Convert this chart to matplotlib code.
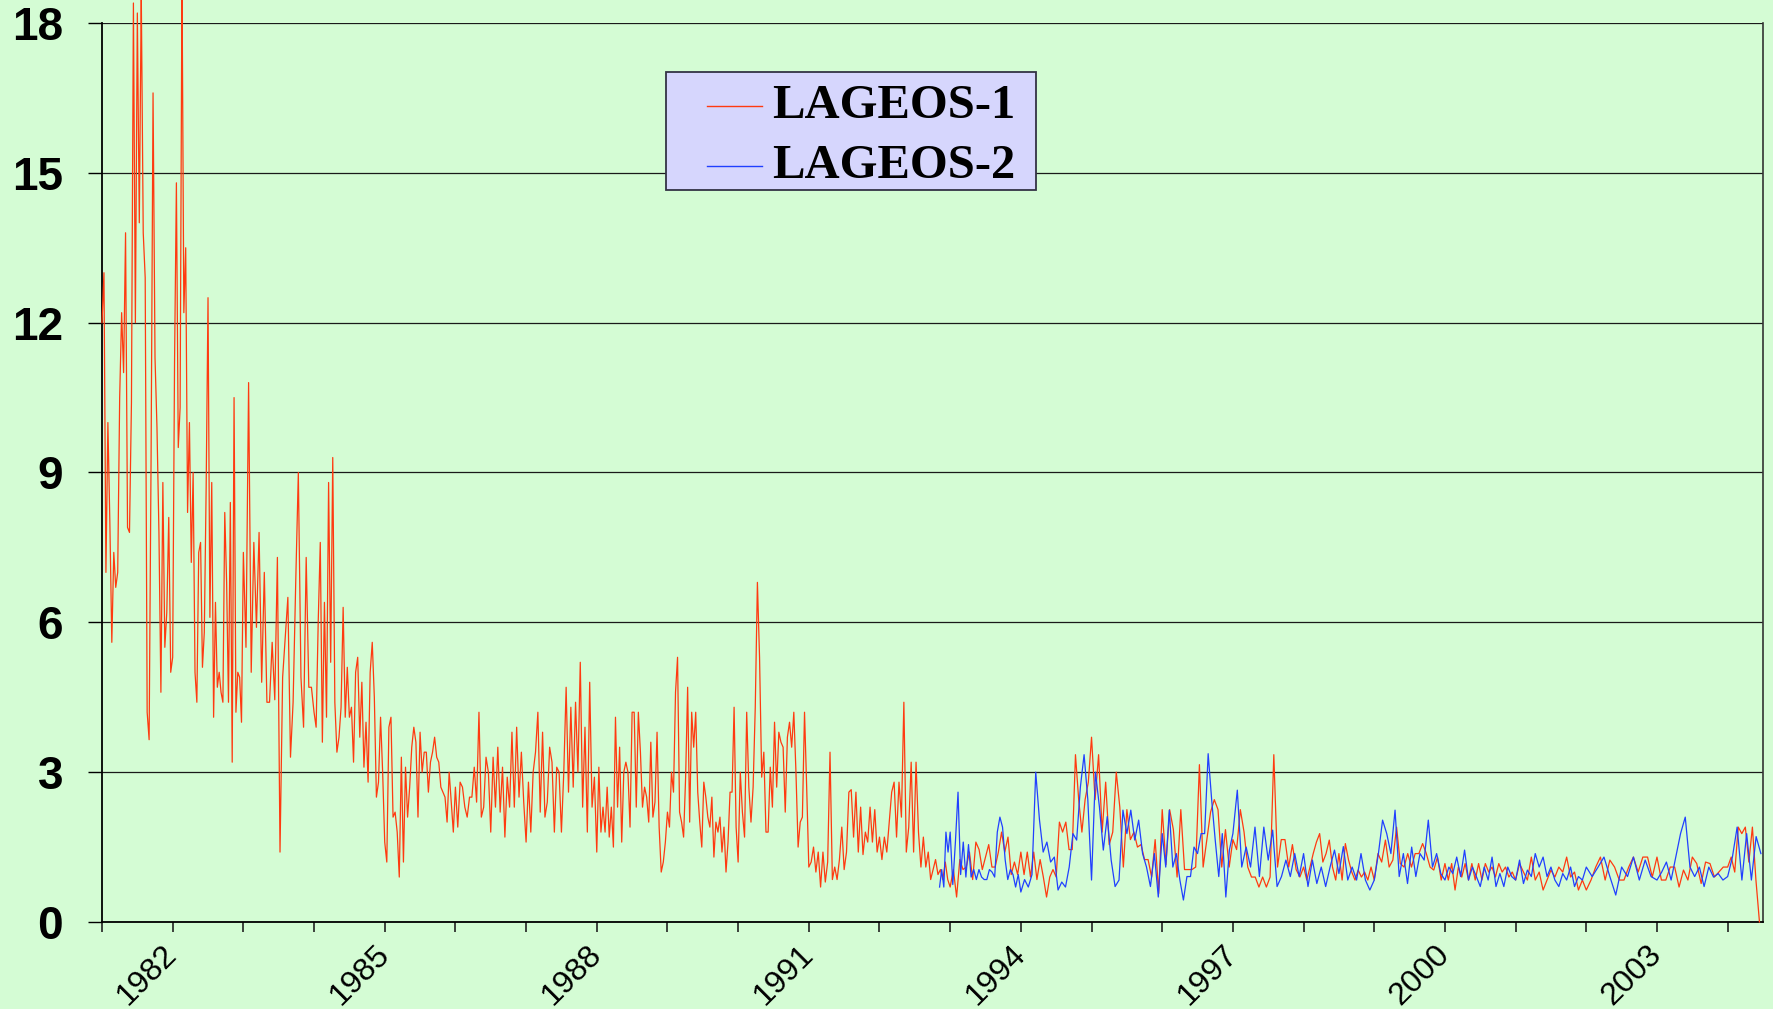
import numpy as np
import matplotlib
matplotlib.use("Agg")
import matplotlib.pyplot as plt
from matplotlib.patches import Rectangle
from matplotlib.lines import Line2D

# LAGEOS-1 values, one list per year
l1_1981 = [12.0, 13.0, 7.0, 10.0, 8.0, 5.6, 7.4, 6.7, 7.0, 10.5, 12.2, 11.0, 13.8, 7.9, 7.8, 10.4,
           18.4, 12.0, 18.2, 14.0, 18.6, 13.8, 12.9, 4.2, 3.65, 9.3, 16.6, 11.3, 9.9, 7.8, 4.6, 8.8,
           5.5, 6.2, 8.1, 5.0]
l1_1982 = [5.3, 11.2, 14.8, 9.5, 10.3, 19.0, 12.2, 13.5, 8.2, 10.0, 7.2, 9.0, 5.0, 4.4, 7.4, 7.6,
           5.1, 5.8, 8.7, 12.5, 6.1, 8.8, 4.1, 6.4, 4.7, 5.0, 4.6, 4.4, 8.2, 6.8, 4.4, 8.4, 3.2, 10.5,
           4.2, 5.0, 4.9, 4.0]
l1_1983 = [7.4, 5.5, 10.8, 5.0, 7.6, 5.9, 7.8, 4.8, 7.0, 4.4, 4.4, 5.6, 4.45, 7.3, 1.4, 4.9, 5.7,
           6.5, 3.3, 4.4, 6.8, 9.0, 4.9, 3.9, 7.3, 4.7, 4.7]
l1_1984 = [4.2, 3.9, 6.0, 7.6, 3.6, 6.4, 4.1, 8.8, 5.2, 9.3, 4.4, 3.4, 3.7, 4.3, 6.3, 4.1, 5.1, 4.1,
           4.3, 3.2, 5.0, 5.3, 3.7, 4.8, 3.1, 4.0, 2.8, 5.0, 5.6, 4.5, 2.5, 2.8, 4.1, 3.0]
l1_1985 = [1.6, 1.2, 3.9, 4.1, 2.1, 2.2, 1.8, 0.9, 3.3, 1.2, 3.1, 2.1, 2.7, 3.5, 3.9, 3.6, 2.1, 3.8,
           3.0, 3.4, 3.4, 2.6, 3.2, 3.4, 3.7, 3.3, 3.2, 2.7, 2.6, 2.5, 2.0, 3.0, 2.4, 1.8]
l1_1986 = [2.7, 1.9, 2.8, 2.7, 2.3, 2.1, 2.5, 2.5, 3.1, 2.4, 4.2, 2.1, 2.3, 3.3, 3.0, 1.8, 3.3, 2.3,
           3.5, 2.2, 3.1, 1.7, 2.9, 2.3, 3.8, 2.3, 3.9, 2.5, 3.4, 2.4]
l1_1987 = [1.6, 2.8, 1.8, 3.0, 3.4, 4.2, 2.2, 3.8, 2.1, 2.4, 3.5, 3.2, 1.8, 3.1, 3.0, 1.8, 3.0, 4.7,
           2.6, 4.3, 2.7, 4.4, 3.0, 5.2, 2.3, 3.9, 1.8, 4.8, 2.3, 2.9]
l1_1988 = [1.4, 3.1, 1.8, 2.3, 1.8, 2.7, 1.7, 2.3, 1.5, 4.1, 2.3, 3.5, 1.6, 3.0, 3.2, 3.0, 1.9, 4.2,
           4.2, 2.3, 4.2, 3.4, 2.3, 2.7, 2.5, 2.0, 3.6, 2.1, 2.4, 3.8, 1.9, 1.0, 1.2, 1.6]
l1_1989 = [2.2, 1.9, 3.0, 2.6, 4.6, 5.3, 2.2, 2.0, 1.7, 2.9, 4.7, 2.0, 4.2, 3.5, 4.2, 2.6, 2.0, 1.5,
           2.8, 2.5, 2.1, 1.9, 2.5, 1.3, 2.0, 1.8, 2.1, 1.4, 1.9, 1.0, 1.6, 2.6, 2.6, 4.3, 1.9]
l1_1990 = [1.2, 3.0, 2.2, 1.7, 4.2, 2.7, 2.0, 2.7, 4.3, 6.8, 5.3, 2.9, 3.4, 1.8, 1.8, 3.1, 2.3, 4.0,
           2.7, 3.8, 3.6, 3.5, 2.2, 3.7, 4.0, 3.5, 4.2, 3.0, 1.5, 2.0, 2.1, 4.2, 2.7]
l1_1991 = [1.1, 1.2, 1.5, 1.0, 1.4, 0.7, 1.4, 0.8, 1.2, 3.4, 0.85, 1.1, 0.85, 1.25, 1.9, 1.05, 1.4,
           2.6, 2.65, 1.7, 2.6, 1.4, 2.3, 1.35, 1.8, 1.6, 2.3, 1.6, 2.25, 1.4]
l1_1992 = [1.7, 1.25, 1.7, 1.4, 2.0, 2.6, 2.8, 1.7, 2.8, 2.1, 4.4, 1.4, 1.9, 3.2, 1.4, 3.2, 1.8, 1.1,
           1.7, 1.1, 1.4, 0.85, 1.05, 1.25, 0.95, 1.05, 0.85, 1.2, 0.85]
l1_1993 = [0.7, 1.05, 0.5, 1.25, 1.05, 1.1, 1.4, 0.85, 1.6, 1.45, 1.05, 1.3, 1.55, 1.1, 1.1, 1.4,
           1.8, 1.4, 1.7, 0.95, 1.2, 0.95]
l1_1994 = [1.4, 0.95, 1.4, 0.9, 1.4, 0.85, 1.25, 0.9, 0.5, 0.9, 1.05, 0.9, 2.0, 1.8, 2.0, 1.45,
           1.45, 3.35, 2.45, 1.8, 2.45, 2.8]
l1_1995 = [3.7, 2.45, 3.35, 1.8, 2.8, 1.55, 1.8, 3.0, 2.3, 1.1, 2.25, 1.65, 1.8, 1.5, 1.55, 1.25,
           1.25, 0.9, 1.65, 0.57]
l1_1996 = [2.25, 1.15, 2.25, 1.85, 0.9, 2.25, 1.05, 1.05, 1.05, 1.1, 3.15, 1.1, 1.65, 2.2, 2.45,
           2.25, 1.1, 1.85, 1.1]
l1_1997 = [1.65, 1.45, 2.25, 1.8, 1.1, 0.9, 0.9, 0.7, 0.9, 0.7, 0.9, 3.35, 1.1, 1.65, 1.65, 1.1,
           1.55, 1.05, 0.9]
l1_1998 = [1.1, 0.84, 1.1, 1.37, 1.6, 1.77, 1.2, 1.37, 1.64, 1.1, 0.84, 1.37, 0.84, 1.57, 1.24,
           1.0, 0.84, 1.04, 0.9, 1.0, 0.84, 1.1]
l1_1999 = [0.84, 1.37, 1.2, 1.64, 1.1, 1.24, 1.9, 1.17, 1.1, 1.37, 1.1, 1.37, 1.37, 1.57, 1.37,
           1.1, 1.04, 1.3, 0.84]
l1_2000 = [1.17, 0.84, 1.17, 0.64, 1.1, 0.9, 1.17, 0.84, 1.17, 0.84, 1.17, 0.84, 1.17, 1.0, 1.1,
           0.9, 1.17, 1.0, 1.1, 0.9, 1.0]
l1_2001 = [0.84, 1.17, 1.0, 0.84, 1.3, 0.84, 1.0, 0.64, 0.84, 1.04, 0.9, 1.1, 1.0, 1.3, 0.9, 1.0,
           0.64, 0.84]
l1_2002 = [0.64, 0.84, 1.1, 1.3, 0.84, 1.24, 1.1, 0.84, 0.84, 1.1, 1.3, 1.0, 1.3, 1.3, 0.9]
l1_2003 = [1.3, 0.84, 0.84, 1.1, 1.1, 0.7, 1.04, 0.84, 1.3, 1.17, 0.77, 1.2, 1.17, 0.9, 1.0, 1.1]
l1_2004 = [1.1, 1.3, 1.0, 1.9, 1.77, 1.9, 1.2, 1.9, 0.84, 0.0]

# LAGEOS-2 values (launched late 1992)
l2_1992 = [0.7, 1.05, 0.7, 1.8, 1.4]
l2_1993 = [1.8, 0.75, 1.6, 2.6, 0.95, 1.6, 0.9, 1.55, 0.9, 1.05, 0.85, 1.05, 0.9, 0.85, 0.85, 1.05,
           1.0, 0.9, 1.8, 2.1, 1.9, 1.25, 0.85, 1.05, 0.95, 0.7, 0.95]
l2_1994 = [0.6, 0.85, 0.7, 0.95, 3.0, 2.05, 1.4, 1.6, 1.2, 1.3, 0.64, 0.8, 0.7, 1.1, 1.77, 1.64,
           2.7, 3.35, 2.45]
l2_1995 = [0.84, 3.0, 2.31, 1.44, 2.11, 1.24, 0.71, 0.84, 2.24, 1.77, 2.24, 1.64, 2.04, 1.37, 1.1,
           0.71, 1.37, 0.5]
l2_1996 = [1.77, 1.1, 2.24, 1.1, 1.37, 0.84, 0.44, 0.91, 0.91, 1.5, 1.37, 1.77, 1.77, 3.37, 2.44,
           1.64, 0.91, 1.77, 0.5, 1.44]
l2_1997 = [1.77, 2.64, 1.1, 1.5, 1.1, 1.9, 0.91, 1.9, 1.24, 1.84, 0.71, 0.91, 1.24, 0.91, 1.37, 0.91]
l2_1998 = [1.37, 0.71, 1.24, 0.77, 1.1, 0.71, 1.1, 1.44, 0.97, 1.51, 0.84, 1.1, 0.84, 1.37, 0.84, 0.64]
l2_1999 = [0.84, 1.37, 2.04, 1.77, 1.37, 2.24, 0.91, 1.37, 0.77, 1.5, 0.91, 1.37, 1.24, 2.04, 1.1,
           1.37, 0.97]
l2_2000 = [0.84, 1.1, 0.97, 1.3, 0.91, 1.44, 0.84, 1.1, 0.91, 0.71, 1.1, 0.84, 1.3, 0.71, 0.97,
           0.71, 1.1, 0.91]
l2_2001 = [0.84, 1.24, 0.77, 1.04, 0.91, 1.37, 1.1, 1.3, 0.91, 1.1, 0.84, 0.71, 0.97, 0.84, 1.1,
           0.71, 0.91, 0.84]
l2_2002 = [1.1, 0.91, 1.1, 1.3, 0.91, 0.54, 1.1, 0.91, 1.3, 0.84, 1.24, 0.91]
l2_2003 = [0.84, 1.0, 1.2, 0.84, 1.3, 1.77, 2.1, 1.1, 0.91, 1.1, 0.71, 1.1, 0.9, 0.97, 0.84]
l2_2004 = [0.91, 1.3, 1.9, 0.84, 1.77, 0.84, 1.71, 1.37]

# (start, end, values) of each stretch, in decimal years
l1_spans = [(1981, 1982, l1_1981), (1982, 1983, l1_1982), (1983, 1984, l1_1983),
            (1984, 1985, l1_1984), (1985, 1986, l1_1985), (1986, 1987, l1_1986),
            (1987, 1988, l1_1987), (1988, 1989, l1_1988), (1989, 1990, l1_1989),
            (1990, 1991, l1_1990), (1991, 1992, l1_1991), (1992, 1993, l1_1992),
            (1993, 1994, l1_1993), (1994, 1995, l1_1994), (1995, 1996, l1_1995),
            (1996, 1997, l1_1996), (1997, 1998, l1_1997), (1998, 1999, l1_1998),
            (1999, 2000, l1_1999), (2000, 2001, l1_2000), (2001, 2002, l1_2001),
            (2002, 2003, l1_2002), (2003, 2004, l1_2003), (2004, 2004.45, l1_2004)]
l2_spans = [(1992.85, 1993, l2_1992), (1993, 1994, l2_1993), (1994, 1995, l2_1994),
            (1995, 1996, l2_1995), (1996, 1997, l2_1996), (1997, 1998, l2_1997),
            (1998, 1999, l2_1998), (1999, 2000, l2_1999), (2000, 2001, l2_2000),
            (2001, 2002, l2_2001), (2002, 2003, l2_2002), (2003, 2004, l2_2003),
            (2004, 2004.47, l2_2004)]

names = ["LAGEOS-1", "LAGEOS-2"]
colors = ["#ff3a10", "#2040ff"]


def build(spans):
    t, v = [], []
    for i, (t0, t1, vals) in enumerate(spans):
        last = i == len(spans) - 1
        t.extend(np.linspace(t0, t1, len(vals), endpoint=last))
        v.extend(vals)
    return np.array(t), np.array(v)


t1, v1 = build(l1_spans)
t2, v2 = build(l2_spans)

BG = "#d4fcd4"
W, H = 1774, 1009

fig = plt.figure(figsize=(W / 100, H / 100), dpi=100, facecolor=BG)
ax = fig.add_axes([102 / W, 1 - 922 / H, (1763 - 102) / W, (922 - 23) / H])
ax.set_facecolor(BG)

ax.plot(t1, v1, color=colors[0], lw=0.9, clip_on=False, zorder=3)
ax.plot(t2, v2, color=colors[1], lw=0.9, clip_on=False, zorder=4)

ax.set_xlim(1981, 2004.5)
ax.set_ylim(0, 18)

ax.set_yticks(range(0, 19, 3))
ax.set_yticklabels([str(v) for v in range(0, 19, 3)], fontsize=33,
                   fontweight="bold", family="Liberation Sans")
ax.yaxis.grid(True, color="#1a1a1a", lw=0.9)
ax.set_axisbelow(True)

ax.set_xticks(range(1982, 2004, 3))
ax.set_xticks(range(1981, 2005), minor=True)
ax.set_xticklabels([str(y) for y in range(1982, 2004, 3)], fontsize=23,
                   family="Liberation Sans", rotation=45, ha="right",
                   va="center", rotation_mode="anchor")
ax.tick_params(axis="x", which="both", length=7, width=1.2, pad=13, color="#222222")
ax.tick_params(axis="y", length=10, width=1.0, pad=18)

ax.spines["top"].set_visible(False)
for s in ("left", "bottom"):
    ax.spines[s].set_linewidth(1.3)
    ax.spines[s].set_color("black")
ax.spines["right"].set_linewidth(1.2)
ax.spines["right"].set_color("#333333")

# legend box drawn by hand to match the Excel layout
x0, y0, x1, y1 = 666, 72, 1036, 190
fig.add_artist(Rectangle((x0 / W, 1 - y1 / H), (x1 - x0) / W, (y1 - y0) / H,
                         transform=fig.transFigure, facecolor="#d6d6fd",
                         edgecolor="#333344", lw=1.3, zorder=10))
for i, (name, c) in enumerate(zip(names, colors)):
    yc = 1 - (106 + 60 * i) / H
    fig.add_artist(Line2D([707 / W, 762 / W], [yc, yc], transform=fig.transFigure,
                          color=c, lw=1.0, zorder=11))
    fig.text(772 / W, yc, name, fontsize=35, fontweight="bold",
             family="Liberation Serif", va="center", ha="left", zorder=12)

fig.savefig("out.png", dpi=100, facecolor=BG)
